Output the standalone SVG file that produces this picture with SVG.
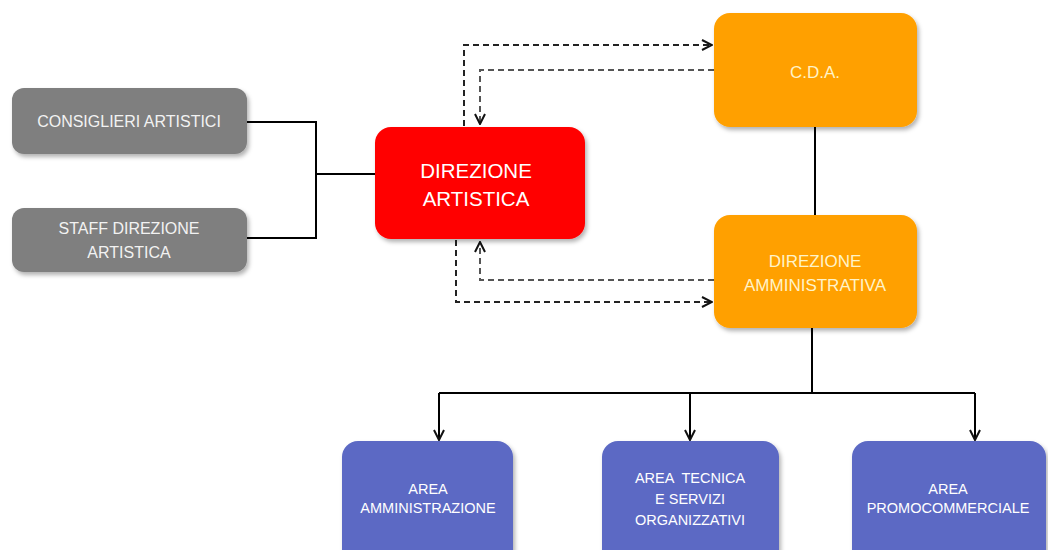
<svg xmlns="http://www.w3.org/2000/svg" width="1048" height="550" viewBox="0 0 1048 550">
<style>
.box{filter:url(#sh)}
.gray{fill:#7f7f7f}
.red{fill:#ff0000}
.orange{fill:#ffa000}
.blue{fill:#5b69c4}
text{font-family:"Liberation Sans","Open Sans",sans-serif;text-anchor:middle;dominant-baseline:central}
.tg{fill:#f2f2f2;font-size:16px}
.tr{fill:#ffffff;font-size:20.5px}
.to{fill:#fff3c8;font-size:17px}
.tb{fill:#ffffff;font-size:14.5px;white-space:pre}
.solid{fill:none;stroke:#000;stroke-width:2}
.dash{fill:none;stroke:#222;stroke-width:2;stroke-dasharray:6,4}
.dash2{fill:none;stroke:#555;stroke-width:2;stroke-dasharray:6,4}
</style>
<defs>
<filter id="sh" x="-10%" y="-10%" width="125%" height="130%">
<feDropShadow dx="2" dy="3" stdDeviation="2" flood-color="#000" flood-opacity="0.3"/>
</filter>
<marker id="ar" viewBox="0 0 12 12" refX="11" refY="6" markerWidth="12" markerHeight="12" markerUnits="userSpaceOnUse" orient="auto">
<path d="M1,1 L11,6 L1,11" fill="none" stroke="#111" stroke-width="2"/>
</marker>
</defs>
<rect width="1048" height="550" fill="#ffffff"/>
<g id="connectors">
<path class="solid" d="M247,122 H316 V238 H247"/>
<path class="solid" d="M316,174 H375"/>
<path class="solid" d="M815,127 V215"/>
<path class="solid" d="M812,328 V393"/>
<path class="solid" d="M439,393 H975"/>
<path class="solid" d="M439,393 V440" marker-end="url(#ar)"/>
<path class="solid" d="M690,393 V440" marker-end="url(#ar)"/>
<path class="solid" d="M975,393 V440" marker-end="url(#ar)"/>
<path class="dash" d="M464,126 V45 H712" marker-end="url(#ar)"/>
<path class="dash2" d="M714,70 H480 V124" marker-end="url(#ar)"/>
<path class="dash2" d="M714,280 H480 V242" marker-end="url(#ar)"/>
<path class="dash" d="M456,240 V302 H712" marker-end="url(#ar)"/>
</g>
<g id="consiglieri">
<rect class="box gray" x="12" y="88" width="235" height="66" rx="12"/>
<text class="tg" x="129" y="121">CONSIGLIERI ARTISTICI</text>
</g>
<g id="staff">
<rect class="box gray" x="12" y="208" width="235" height="64" rx="12"/>
<text class="tg" x="129" y="228">STAFF DIREZIONE</text>
<text class="tg" x="129" y="252">ARTISTICA</text>
</g>
<g id="direzione-artistica">
<rect class="box red" x="375" y="127" width="210" height="112" rx="16"/>
<text class="tr" x="476" y="170">DIREZIONE</text>
<text class="tr" x="476" y="198">ARTISTICA</text>
</g>
<g id="cda">
<rect class="box orange" x="714" y="13" width="203" height="114" rx="16"/>
<text class="to" x="815" y="72">C.D.A.</text>
</g>
<g id="direzione-amministrativa">
<rect class="box orange" x="714" y="215" width="203" height="113" rx="16"/>
<text class="to" x="815" y="261">DIREZIONE</text>
<text class="to" x="815" y="285">AMMINISTRATIVA</text>
</g>
<g id="area-amministrazione">
<rect class="box blue" x="342" y="441" width="171" height="125" rx="16"/>
<text class="tb" x="428" y="489">AREA</text>
<text class="tb" x="428" y="508">AMMINISTRAZIONE</text>
</g>
<g id="area-tecnica">
<rect class="box blue" x="602" y="441" width="177" height="125" rx="16"/>
<text class="tb" x="690" y="478" xml:space="preserve">AREA  TECNICA</text>
<text class="tb" x="690" y="499">E SERVIZI</text>
<text class="tb" x="690" y="520">ORGANIZZATIVI</text>
</g>
<g id="area-promocommerciale">
<rect class="box blue" x="852" y="441" width="194" height="125" rx="16"/>
<text class="tb" x="948" y="489">AREA</text>
<text class="tb" x="948" y="508">PROMOCOMMERCIALE</text>
</g>
</svg>
